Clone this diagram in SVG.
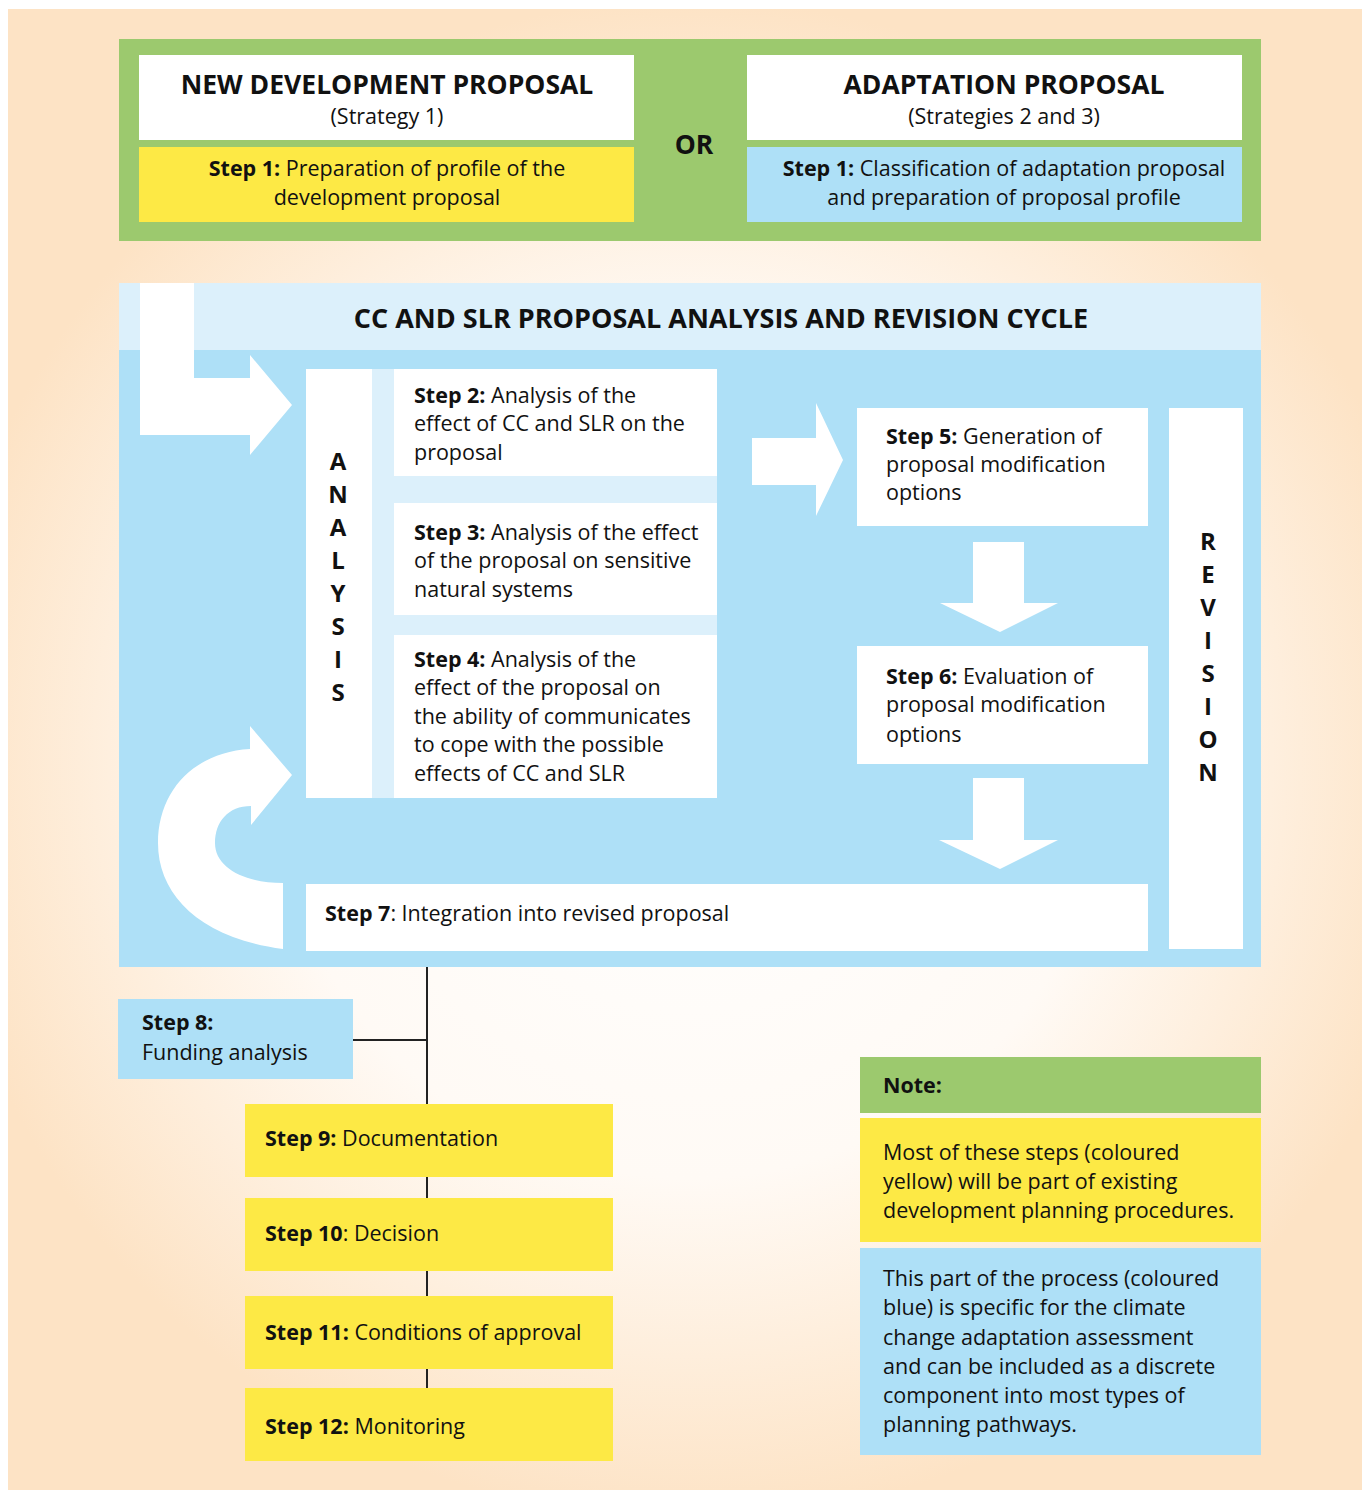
<svg xmlns="http://www.w3.org/2000/svg" width="1362" height="1490" viewBox="0 0 1362 1490">
<defs>
<radialGradient id="bg" gradientUnits="userSpaceOnUse" cx="690" cy="760" r="760">
<stop offset="0" stop-color="#ffffff"/>
<stop offset="0.55" stop-color="#fffaf5"/>
<stop offset="1" stop-color="#fde3c5"/>
</radialGradient>
<style>
text{font-family:"Open Sans","Liberation Sans",sans-serif;fill:#111;}
.t{font-size:21.5px;}
.b{font-weight:bold;}
.h{font-size:26.5px;font-weight:bold;}
.hc{font-size:27px;font-weight:bold;}
.v{font-size:24px;font-weight:bold;text-anchor:middle;}
.c{text-anchor:middle;}
.green{fill:#9cc96e;}
.yellow{fill:#fde945;}
.blue{fill:#aee0f7;}
.lblue{fill:#dcf0fb;}
.white{fill:#ffffff;}
.conn{stroke:#222;stroke-width:2;fill:none;}
</style>
</defs>
<rect x="8" y="9" width="1354" height="1481" fill="url(#bg)"/>

<g id="top-panel">
<rect class="green" x="119" y="39" width="1142" height="202"/>
<text class="h c" x="694" y="154">OR</text>
</g>
<g id="new-development">
<rect class="white" x="139" y="55" width="495" height="85"/>
<text class="h c" x="387" y="94">NEW DEVELOPMENT PROPOSAL</text>
<text class="t c" x="387" y="124">(Strategy 1)</text>
</g>
<g id="step1-new">
<rect class="yellow" x="139" y="147" width="495" height="75"/>
<text class="t c" x="387" y="176"><tspan class="b">Step 1:</tspan> Preparation of profile of the</text>
<text class="t c" x="387" y="205">development proposal</text>
</g>
<g id="adaptation">
<rect class="white" x="747" y="55" width="495" height="85"/>
<text class="h c" x="1004" y="94">ADAPTATION PROPOSAL</text>
<text class="t c" x="1004" y="124">(Strategies 2 and 3)</text>
</g>
<g id="step1-adapt">
<rect class="blue" x="747" y="147" width="495" height="75"/>
<text class="t c" x="1004" y="176"><tspan class="b">Step 1:</tspan> Classification of adaptation proposal</text>
<text class="t c" x="1004" y="205">and preparation of proposal profile</text>
</g>

<g id="cycle">
<rect class="blue" x="119" y="283" width="1142" height="684"/>
<rect class="lblue" x="119" y="283" width="1142" height="67"/>
<text class="hc c" x="721" y="328">CC AND SLR PROPOSAL ANALYSIS AND REVISION CYCLE</text>
</g>

<g id="arrows">
<path class="white" d="M140,283 H194 V378 H250 V355 L292,405 L250,455 V435 H140 Z"/>
<path class="white" d="M752,438 H816 V403 L843,460 L816,516 V485 H752 Z"/>
<path class="white" d="M973,542 H1024 V603 H1058 L1000,632 L940,603 H973 Z"/>
<path class="white" d="M973,778 H1024 V840 H1058 L1000,869 L939,840 H973 Z"/>
<path class="white" d="M283,949 C200,938 158,895 158,843 C158,790 195,752 250,749 V726 L292,775 L251,825 V806 C228,806 215,822 215,843 C215,868 245,883 283,883 Z"/>
</g>

<g id="analysis">
<rect class="white" x="306" y="369" width="66" height="429"/>
<rect class="lblue" x="372" y="369" width="345" height="429"/>
<text class="v"><tspan x="338" y="470">A</tspan><tspan x="338" y="503">N</tspan><tspan x="338" y="536">A</tspan><tspan x="338" y="569">L</tspan><tspan x="338" y="602">Y</tspan><tspan x="338" y="635">S</tspan><tspan x="338" y="668">I</tspan><tspan x="338" y="701">S</tspan></text>
</g>
<g id="step2">
<rect class="white" x="394" y="369" width="323" height="107"/>
<text class="t" x="414" y="403"><tspan class="b">Step 2:</tspan> Analysis of the</text>
<text class="t" x="414" y="431">effect of CC and SLR on the</text>
<text class="t" x="414" y="460">proposal</text>
</g>
<g id="step3">
<rect class="white" x="394" y="503" width="323" height="112"/>
<text class="t" x="414" y="540"><tspan class="b">Step 3:</tspan> Analysis of the effect</text>
<text class="t" x="414" y="568">of the proposal on sensitive</text>
<text class="t" x="414" y="597">natural systems</text>
</g>
<g id="step4">
<rect class="white" x="394" y="635" width="323" height="163"/>
<text class="t" x="414" y="667"><tspan class="b">Step 4:</tspan> Analysis of the</text>
<text class="t" x="414" y="695">effect of the proposal on</text>
<text class="t" x="414" y="724">the ability of communicates</text>
<text class="t" x="414" y="752">to cope with the possible</text>
<text class="t" x="414" y="781">effects of CC and SLR</text>
</g>
<g id="step5">
<rect class="white" x="857" y="408" width="291" height="118"/>
<text class="t" x="886" y="444"><tspan class="b">Step 5:</tspan> Generation of</text>
<text class="t" x="886" y="472">proposal modification</text>
<text class="t" x="886" y="500">options</text>
</g>
<g id="step6">
<rect class="white" x="857" y="646" width="291" height="118"/>
<text class="t" x="886" y="684"><tspan class="b">Step 6:</tspan> Evaluation of</text>
<text class="t" x="886" y="712">proposal modification</text>
<text class="t" x="886" y="742">options</text>
</g>
<g id="revision">
<rect class="white" x="1169" y="408" width="74" height="541"/>
<text class="v"><tspan x="1208" y="550">R</tspan><tspan x="1208" y="583">E</tspan><tspan x="1208" y="616">V</tspan><tspan x="1208" y="649">I</tspan><tspan x="1208" y="682">S</tspan><tspan x="1208" y="715">I</tspan><tspan x="1208" y="748">O</tspan><tspan x="1208" y="781">N</tspan></text>
</g>
<g id="step7">
<rect class="white" x="306" y="884" width="842" height="67"/>
<text class="t" x="325" y="921"><tspan class="b">Step 7</tspan>: Integration into revised proposal</text>
</g>

<g id="connectors">
<line class="conn" x1="427" y1="967" x2="427" y2="1104"/>
<line class="conn" x1="353" y1="1040" x2="428" y2="1040"/>
<line class="conn" x1="427" y1="1177" x2="427" y2="1198"/>
<line class="conn" x1="427" y1="1271" x2="427" y2="1296"/>
<line class="conn" x1="427" y1="1369" x2="427" y2="1388"/>
</g>

<g id="step8">
<rect class="blue" x="118" y="999" width="235" height="80"/>
<text class="t b" x="142" y="1030">Step 8:</text>
<text class="t" x="142" y="1060">Funding analysis</text>
</g>
<g id="step9">
<rect class="yellow" x="245" y="1104" width="368" height="73"/>
<text class="t" x="265" y="1146"><tspan class="b">Step 9:</tspan> Documentation</text>
</g>
<g id="step10">
<rect class="yellow" x="245" y="1198" width="368" height="73"/>
<text class="t" x="265" y="1241"><tspan class="b">Step 10</tspan>: Decision</text>
</g>
<g id="step11">
<rect class="yellow" x="245" y="1296" width="368" height="73"/>
<text class="t" x="265" y="1340"><tspan class="b">Step 11:</tspan> Conditions of approval</text>
</g>
<g id="step12">
<rect class="yellow" x="245" y="1388" width="368" height="73"/>
<text class="t" x="265" y="1434"><tspan class="b">Step 12:</tspan> Monitoring</text>
</g>

<g id="note">
<rect class="green" x="860" y="1057" width="401" height="56"/>
<text class="t b" x="883" y="1093">Note:</text>
<rect class="yellow" x="860" y="1118" width="401" height="124"/>
<text class="t" x="883" y="1160">Most of these steps (coloured</text>
<text class="t" x="883" y="1189">yellow) will be part of existing</text>
<text class="t" x="883" y="1218">development planning procedures.</text>
<rect class="blue" x="860" y="1248" width="401" height="207"/>
<text class="t" x="883" y="1286">This part of the process (coloured</text>
<text class="t" x="883" y="1315">blue) is specific for the climate</text>
<text class="t" x="883" y="1345">change adaptation assessment</text>
<text class="t" x="883" y="1374">and can be included as a discrete</text>
<text class="t" x="883" y="1403">component into most types of</text>
<text class="t" x="883" y="1432">planning pathways.</text>
</g>
</svg>
